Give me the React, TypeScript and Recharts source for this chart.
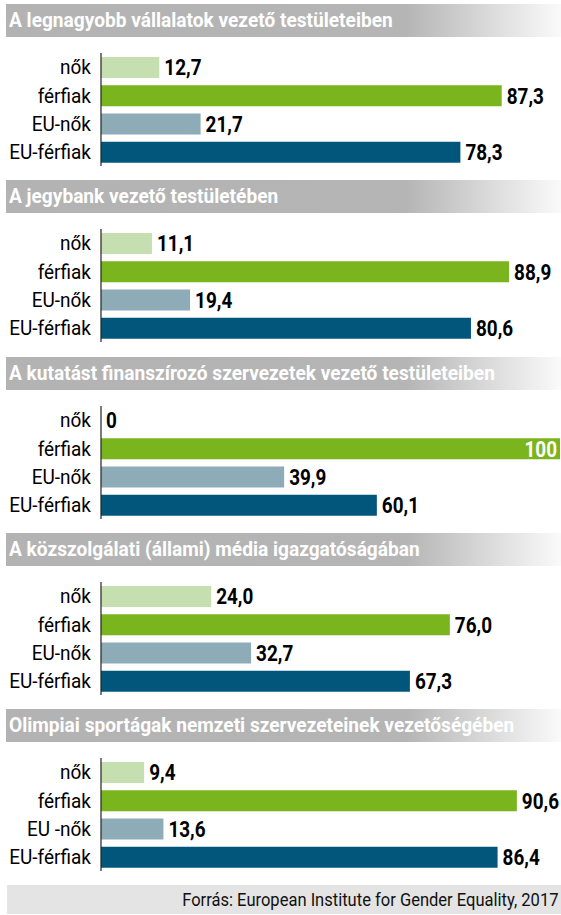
import { BarChart, Bar, XAxis, YAxis, Cell, LabelList } from "recharts";

const groups = ["nők", "férfiak", "EU-nők", "EU-férfiak"];
const groupsOlympic = ["nők", "férfiak", "EU -nők", "EU-férfiak"];

const titles = [
  "A legnagyobb vállalatok vezető testületeiben",
  "A jegybank vezető testületében",
  "A kutatást finanszírozó szervezetek vezető testületeiben",
  "A közszolgálati (állami) média igazgatóságában",
  "Olimpiai sportágak nemzeti szervezeteinek vezetőségében",
];

const corporateBoards = [12.7, 87.3, 21.7, 78.3];
const centralBank = [11.1, 88.9, 19.4, 80.6];
const researchFunding = [0, 100, 39.9, 60.1];
const publicMedia = [24.0, 76.0, 32.7, 67.3];
const olympicSports = [9.4, 90.6, 13.6, 86.4];

const source = "Forrás: European Institute for Gender Equality, 2017";

const colors = ["#c5dfb0", "#7ab51d", "#8eabb8", "#03567b"];

const FONT = "Roboto, sans-serif";

const panels = [
  { title: titles[0], cats: groups, values: corporateBoards },
  { title: titles[1], cats: groups, values: centralBank },
  { title: titles[2], cats: groups, values: researchFunding },
  { title: titles[3], cats: groups, values: publicMedia },
  { title: titles[4], cats: groupsOlympic, values: olympicSports },
];

const fmt = (v: number) =>
  v === 0 || v === 100 ? String(v) : v.toFixed(1).replace(".", ",");

function ValueLabel(props: any) {
  const { x, y, width, height, value } = props;
  const inside = value >= 100;
  const tx = inside ? x + width - 3 : x + width + 5;
  return (
    <text
      transform={`translate(${tx},${y + height / 2}) scale(0.86,1)`}
      dy="0.36em"
      textAnchor={inside ? "end" : "start"}
      fill={inside ? "#fff" : "#000"}
      fontSize={22}
      fontWeight="bold"
      fontFamily={FONT}
    >
      {fmt(value)}
    </text>
  );
}

function CatTick(props: any) {
  const { x, y, payload } = props;
  return (
    <text
      transform={`translate(${x},${y}) scale(0.95,1)`}
      dy="0.36em"
      textAnchor="end"
      fill="#000"
      fontSize={20}
      fontFamily={FONT}
    >
      {payload.value}
    </text>
  );
}

function Panel({ title, cats, values, top }: any) {
  const data = cats.map((c: string, i: number) => ({ name: c, value: values[i] }));
  return (
    <div style={{ position: "absolute", left: 0, top, width: 561, height: 176 }}>
      <div
        style={{
          position: "absolute",
          left: 6,
          top: 0,
          width: 555,
          height: 33,
          background: "linear-gradient(to right, #b3b3b3 0%, #b5b5b5 72%, #fafafa 100%)",
          overflow: "hidden",
        }}
      >
        <span
          style={{
            display: "inline-block",
            color: "#fff",
            fontFamily: FONT,
            fontWeight: "bold",
            fontSize: 20,
            lineHeight: "33px",
            marginLeft: 3,
            whiteSpace: "nowrap",
            transform: "scaleX(0.955)",
            transformOrigin: "left center",
          }}
        >
          {title}
        </span>
      </div>
      <div style={{ position: "absolute", left: 0, top: 33 }}>
        <BarChart
          width={561}
          height={143}
          data={data}
          layout="vertical"
          margin={{ top: 16, right: 1, bottom: 14, left: 0 }}
        >
          <XAxis type="number" domain={[0, 100]} hide />
          <YAxis
            type="category"
            dataKey="name"
            width={101}
            tickLine={false}
            axisLine={{ stroke: "#222", strokeWidth: 1.2 }}
            tickMargin={4}
            tick={<CatTick />}
            interval={0}
          />
          <Bar dataKey="value" barSize={21} minPointSize={0.01} isAnimationActive={false}>
            {data.map((_: any, i: number) => (
              <Cell key={i} fill={colors[i]} />
            ))}
            <LabelList dataKey="value" content={<ValueLabel />} />
          </Bar>
        </BarChart>
      </div>
    </div>
  );
}

export default function App() {
  return (
    <div style={{ position: "absolute", left: 0, top: 0, width: 561, height: 915, background: "#fff" }}>
      {panels.map((p, i) => (
        <Panel key={i} {...p} top={4 + Math.round(i * 176.25)} />
      ))}
      <div
        style={{
          position: "absolute",
          left: 7,
          top: 885,
          width: 554,
          height: 29,
          background: "#e3e4e3",
          textAlign: "right",
          overflow: "hidden",
        }}
      >
        <span
          style={{
            display: "inline-block",
            fontFamily: FONT,
            fontSize: 19,
            lineHeight: "29px",
            marginRight: 3,
            color: "#111",
            whiteSpace: "nowrap",
            transform: "scaleX(0.87)",
            transformOrigin: "right center",
          }}
        >
          {source}
        </span>
      </div>
    </div>
  );
}
